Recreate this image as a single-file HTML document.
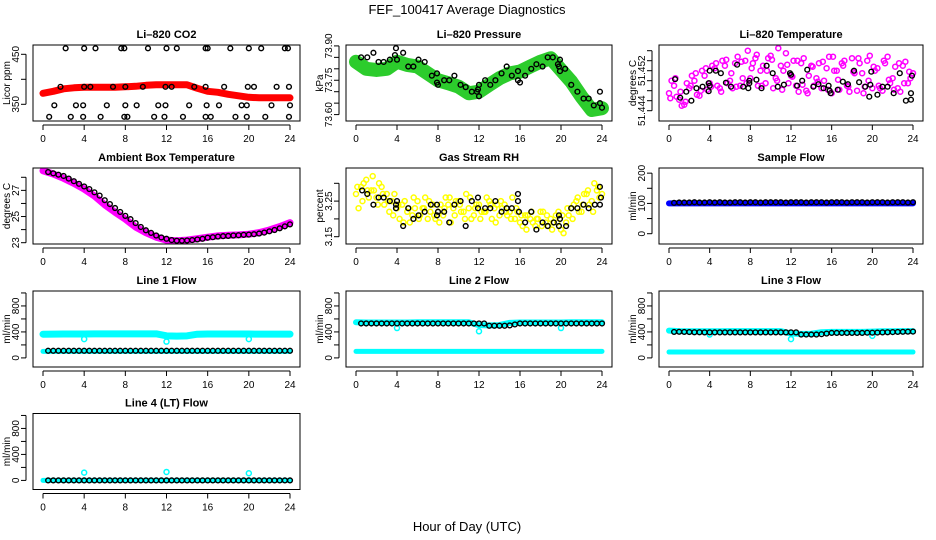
<!DOCTYPE html>
<html><head><meta charset="utf-8"><style>
html,body{margin:0;padding:0;background:#fff;}
svg{display:block;font-family:"Liberation Sans",sans-serif;}
</style></head><body>
<svg id="chart" width="936" height="540" viewBox="0 0 936 540" xmlns="http://www.w3.org/2000/svg">
<rect width="936" height="540" fill="#fff"/>
<text x="467" y="14" font-size="13" text-anchor="middle">FEF_100417  Average Diagnostics</text>
<text x="467" y="531" font-size="13" text-anchor="middle">Hour of Day (UTC)</text>
</svg>
<script>
// ---------- data ----------
const xTicks = [0,4,8,12,16,20,24];
const hourly = [0,1,2,3,4,5,6,7,8,9,10,11,12,13,14,15,16,17,18,19,20,21,22,23,24];

// Li-820 CO2
const co2Band = [372,376,381,383,384,384,384,384,385,386,388,389,389,389,389,382,376,374,370,367,364,363,363,363,363];
const co2BlkH = [2.2,4,5.1,7.6,7.9,10.2,12,13,15.8,16,18.2,20,21.2,23.5,23.8, 1.7,4,4.6,6.8,8,9.7,11.9,12.5,14.7,15.8,17.6,19.9,20.5,22.7,23.9, 1.1,3.2,3.9,6.2,8,9.1,11.2,11.9,14.2,15.9,17.1,19.3,19.8,22.2,24, 0.6,2.7,3.9,5.6,7.9,8.2,10.8,11.8,13.6,15.8,16.3,18.7,19.8,21.6,23.9];
const co2BlkV = [462,462,462,462,462,462,462,462,462,462,462,462,462,462,462, 385,385,385,385,385,385,385,385,385,385,385,385,385,385,385, 348,348,348,348,348,348,348,348,348,348,348,348,348,348,348, 325,325,325,325,325,325,325,325,325,325,325,325,325,325,325];

// Pressure
const presBand = [73.831,73.80,73.795,73.80,73.831,73.817,73.81,73.78,73.75,73.737,73.722,73.693,73.70,73.73,73.759,73.78,73.788,73.81,73.831,73.846,73.795,73.744,73.678,73.62,73.628];
const presBlkH = [0.5,1.1,1.7,2.2,2.7,3.3,3.8,3.9,4,4.6,5.1,5.6,6.1,6.7,7.4,7.9,7.9,8,8.6,9.1,9.6,10.2,10.7,11.3,11.8,11.9,12,12,12.6,13.1,13.6,14.2,14.7,15.2,15.8,15.8,16,16.5,17.1,17.6,18.2,18.7,19.2,19.7,19.8,19.9,19.9,20.4,21,21.6,22.2,22.7,23.2,23.8,23.8,24];
const presBlkV = [73.85,73.85,73.87,73.83,73.83,73.84,73.86,73.89,73.84,73.87,73.81,73.81,73.84,73.83,73.77,73.78,73.74,73.73,73.75,73.75,73.77,73.73,73.72,73.70,73.70,73.71,73.68,73.73,73.75,73.73,73.75,73.78,73.81,73.77,73.79,73.75,73.74,73.77,73.80,73.82,73.81,73.85,73.85,73.82,73.81,73.79,73.84,73.80,73.73,73.70,73.67,73.67,73.64,73.70,73.65,73.63];

// Li-820 temperature (magenta scatter, three sampled layers)
const tmpA = [51.4475,51.4490,51.4462,51.4452,51.4485,51.4500,51.4470,51.4510,51.4495,51.4525,51.4485,51.4530,51.4500,51.4535,51.4490,51.4540,51.4505,51.4545,51.4520,51.4495,51.4550,51.4505,51.4530,51.4555,51.4510,51.4490,51.4535,51.4480,51.4530,51.4505,51.4485,51.4525,51.4475,51.4520,51.4535,51.4490,51.4545,51.4480,51.4515,51.4540,51.4485,51.4525,51.4480,51.4548,51.4505,51.4485,51.4530,51.4495,51.4515];
const tmpB = [51.4500,51.4468,51.4450,51.4495,51.4510,51.4472,51.4520,51.4482,51.4530,51.4490,51.4540,51.4495,51.4485,51.4548,51.4505,51.4560,51.4535,51.4490,51.4530,51.4545,51.4485,51.4565,51.4520,51.4495,51.4540,51.4478,51.4545,51.4510,51.4490,51.4535,51.4500,51.4548,51.4520,51.4482,51.4540,51.4478,51.4515,51.4535,51.4488,51.4550,51.4520,51.4485,51.4535,51.4495,51.4528,51.4478,51.4538,51.4505];
const tmpC = [51.4465,51.4505,51.4478,51.4458,51.4490,51.4515,51.4480,51.4525,51.4488,51.4535,51.4478,51.4542,51.4515,51.4488,51.4538,51.4495,51.4525,51.4552,51.4490,51.4520,51.4542,51.4500,51.4482,51.4532,51.4508,51.4540,51.4492,51.4475,51.4528,51.4498,51.4538,51.4482,51.4548,51.4502,51.4530,51.4488,51.4518,51.4545,51.4475,51.4500,51.4528,51.4490,51.4540,51.4502,51.4482,51.4535,51.4495,51.4518];
const tmpBlkH = [0.6,1.1,1.7,2.2,2.7,3.3,3.9,3.9,4,4,4.6,5.1,5.6,6.1,6.7,7.3,7.8,7.9,7.9,8.6,9.1,9.6,10.2,10.7,11.3,11.9,12,12.6,13.1,13.6,14.2,14.7,15.2,15.7,15.8,15.9,16.6,17.1,17.6,18.2,18.7,19.3,19.7,19.8,19.9,20.5,21,21.5,22.1,22.7,23.3,23.8,23.9,23.8];
const tmpBlkV = [51.4503,51.4466,51.4478,51.4460,51.4485,51.4488,51.4479,51.4495,51.4490,51.4520,51.4520,51.4515,51.4496,51.4488,51.4532,51.4488,51.4485,51.4495,51.4500,51.4502,51.4485,51.4530,51.4515,51.4488,51.4492,51.4515,51.4512,51.4490,51.4500,51.4522,51.4488,51.4493,51.4485,51.4490,51.4480,51.4475,51.4482,51.4498,51.4493,51.4520,51.4497,51.4488,51.4468,51.4492,51.4518,51.4472,51.4488,51.4488,51.4475,51.4515,51.4460,51.4462,51.4510,51.4475];

// Ambient box temperature
const ambBand = [28.5,28.25,27.92,27.54,27.1,26.57,25.9,25.33,24.8,24.2,23.77,23.42,23.2,23.15,23.2,23.3,23.42,23.52,23.57,23.6,23.65,23.77,23.97,24.23,24.53];
const ambBlk = [28.4,28.3,28.2,28.1,27.9,27.7,27.5,27.3,27.1,26.85,26.6,26.25,25.95,25.65,25.35,25.05,24.8,24.5,24.2,23.95,23.75,23.55,23.4,23.3,23.2,23.15,23.15,23.17,23.2,23.25,23.3,23.38,23.42,23.47,23.5,23.52,23.55,23.57,23.6,23.62,23.65,23.7,23.77,23.87,23.97,24.1,24.25,24.4];

// Gas stream RH (yellow scatter layers)
const rhA = [3.27,3.29,3.31,3.28,3.26,3.29,3.27,3.25,3.23,3.24,3.22,3.21,3.25,3.23,3.20,3.24,3.22,3.21,3.24,3.23,3.25,3.22,3.23,3.21,3.24,3.22,3.25,3.23,3.21,3.24,3.22,3.20,3.19,3.21,3.20,3.18,3.22,3.19,3.20,3.21,3.17,3.19,3.23,3.25,3.22,3.27,3.25,3.28,3.27];
const rhB = [3.23,3.30,3.26,3.28,3.30,3.24,3.22,3.27,3.20,3.25,3.19,3.23,3.21,3.26,3.22,3.20,3.24,3.26,3.19,3.25,3.22,3.27,3.20,3.24,3.22,3.26,3.20,3.24,3.23,3.21,3.26,3.22,3.18,3.21,3.19,3.20,3.22,3.18,3.19,3.22,3.16,3.21,3.24,3.22,3.27,3.24,3.30,3.26];
const rhC = [3.29,3.25,3.28,3.32,3.24,3.27,3.25,3.21,3.24,3.19,3.23,3.26,3.20,3.23,3.25,3.21,3.19,3.23,3.26,3.21,3.24,3.20,3.26,3.23,3.20,3.22,3.24,3.19,3.25,3.22,3.20,3.23,3.21,3.17,3.22,3.20,3.18,3.21,3.17,3.19,3.21,3.23,3.20,3.26,3.24,3.28,3.22,3.29];
const rhBlkH = [0.6,1.1,1.7,2.2,2.7,3.3,3.9,3.9,4,4.6,5.1,5.6,6.1,6.7,7.3,7.9,7.9,8,8.6,9.1,9.6,10.2,10.7,11.3,11.9,11.9,12.6,13.1,13.6,14.2,14.7,15.2,15.8,15.8,15.9,16.5,17.1,17.6,18.2,18.7,19.3,19.8,19.8,19.9,20.5,21,21.6,22.2,22.7,23.3,23.8,23.9,23.8];
const rhBlkV = [3.28,3.27,3.24,3.26,3.26,3.25,3.23,3.24,3.25,3.18,3.23,3.20,3.21,3.22,3.24,3.24,3.21,3.22,3.22,3.19,3.24,3.25,3.18,3.25,3.26,3.23,3.23,3.23,3.25,3.22,3.23,3.23,3.27,3.25,3.22,3.19,3.22,3.17,3.19,3.18,3.19,3.21,3.18,3.20,3.18,3.23,3.23,3.24,3.23,3.24,3.29,3.26,3.24];

// Sample flow
const sfBand = [100,100,100,100,100,100,100,100,100,100,100,100,100,100,100,100,100,100,100,100,100,100,100,100,100];
const sfBlk = [102,103,103,103,104,103,103,104,103,104,103,103,104,104,103,104,104,103,104,104,104,104,103,104,104,104,103,104,104,104,103,104,104,104,103,104,104,104,103,104,104,104,103,104,104,104,103,104];

// Line 1
const l1Up = [365,366,368,368,368,370,370,370,370,370,370,370,340,335,340,365,368,368,368,368,368,366,366,366,366];
const l1Low = [100,100,100,100,100,100,100,100,100,100,100,100,100,100,100,100,100,100,100,100,100,100,100,100,100];
const l1Blk = [110,110,110,110,110,110,110,110,110,110,110,110,110,110,110,110,110,110,110,110,110,110,110,110,110,110,110,110,110,110,110,110,110,110,110,110,110,110,110,110,110,110,110,110,110,110,110,110];
const l1OutH = [4,12,20];
const l1OutV = [290,250,290];
// Line 2
const l2Up = [548,545,545,545,545,545,548,548,548,548,548,548,505,500,505,540,545,545,545,545,545,548,548,548,548];
const l2Low = [100,100,100,100,100,100,100,100,100,100,100,100,100,100,100,100,100,100,100,100,100,100,100,100,100];
const l2Blk = [530,530,530,530,530,530,530,530,530,530,530,530,530,530,530,530,530,530,530,530,530,530,530,530,530,495,495,495,495,500,515,530,530,530,530,530,530,530,530,530,530,530,530,530,530,530,530,530];
const l2OutH = [4,12,20];
const l2OutV = [460,410,460];
// Line 3
const l3Up = [420,412,410,410,410,410,412,412,412,412,412,412,375,370,372,395,400,400,400,400,405,410,410,412,412];
const l3Low = [90,90,90,90,90,90,90,90,90,90,90,90,90,90,90,90,90,90,90,90,90,90,90,90,90];
const l3Blk = [400,402,400,398,395,395,393,393,393,393,393,393,393,393,393,393,393,393,393,393,393,393,393,393,393,360,360,360,360,365,375,385,385,385,385,385,385,385,388,388,390,393,395,397,400,402,404,405];
const l3OutH = [4,12,20];
const l3OutV = [360,290,340];
// Line 4
const l4Up = [0,0,0,0,0,0,0,0,0,0,0,0,0,0,0,0,0,0,0,0,0,0,0,0,0];
const l4Blk = [0,0,0,0,0,0,0,0,0,0,0,0,0,0,0,0,0,0,0,0,0,0,0,0,0,0,0,0,0,0,0,0,0,0,0,0,0,0,0,0,0,0,0,0,0,0,0,0];
const l4OutH = [4,12,20];
const l4OutV = [120,130,110];

// ---------- drawing ----------
const NS = "http://www.w3.org/2000/svg";
const svg = document.getElementById('chart');
function el(tag, attrs, parent){
  const e = document.createElementNS(NS, tag);
  for (const k in attrs) e.setAttribute(k, attrs[k]);
  (parent||svg).appendChild(e);
  return e;
}
const colL = [33,346,659], colW = [267,266,264];
const rowT = [45,168,291,413.5], boxH = 76;

function panel(name, col, row, title, ylab, ymin, ymax, yticks, ylabels){
  const L = colL[col], T = rowT[row], W = colW[col], B = T + boxH;
  const g = el('g', {});
  
  
  const p = {g, L, T, W, B,
    x: h => L + 10 + h * (W - 20) / 24,
    y: v => B - (v - ymin) / (ymax - ymin) * boxH};
  const cid = 'clip-' + name;
  const cp = el('clipPath', {id: cid}, g);
  el('rect', {x: L, y: T, width: W, height: boxH}, cp);
  p.plot = el('g', {'clip-path': 'url(#' + cid + ')'}, g);
  
  
  const box = el('rect', {x: L, y: T, width: W, height: boxH, fill: 'none', stroke: '#000', 'stroke-width': 1}, g);
  
  
  const t = el('text', {x: L + W / 2, y: T - 7, 'font-size': 11, 'font-weight': 'bold', 'text-anchor': 'middle'}, g);
  t.textContent = title;
  
  
  const yl = el('text', {x: 0, y: 0, 'font-size': 10, 'text-anchor': 'middle', transform: 'translate(' + (L - 23) + ',' + (T + boxH / 2) + ') rotate(-90)'}, g);
  yl.textContent = ylab;
  
  
  const xa = el('g', {}, g);
  
  
  el('line', {x1: p.x(0), x2: p.x(24), y1: B + 4, y2: B + 4, stroke: '#000'}, xa);
  xTicks.forEach(h => {
    el('line', {x1: p.x(h), x2: p.x(h), y1: B + 4, y2: B + 9, stroke: '#000'}, xa);
    const tt = el('text', {x: p.x(h), y: B + 21, 'font-size': 10, 'text-anchor': 'middle'}, xa);
    tt.textContent = h;
  });
  const ya = el('g', {}, g);
  
  
  el('line', {x1: L - 7, x2: L - 7, y1: p.y(yticks[0]), y2: p.y(yticks[yticks.length - 1]), stroke: '#000'}, ya);
  yticks.forEach((v, i) => {
    el('line', {x1: L - 12, x2: L - 7, y1: p.y(v), y2: p.y(v), stroke: '#000'}, ya);
    if (ylabels[i] !== '') {
      const tt = el('text', {x: 0, y: 0, 'font-size': 10, 'text-anchor': 'middle', transform: 'translate(' + (L - 14) + ',' + p.y(v) + ') rotate(-90)'}, ya);
      tt.textContent = ylabels[i];
    }
  });
  return p;
}
function band(p, name, hours, vals, color, w){
  const pts = hours.map((h, i) => p.x(h) + ',' + p.y(vals[i])).join(' ');
  const e = el('polyline', {points: pts, fill: 'none', stroke: color, 'stroke-width': w, 'stroke-linejoin': 'round', 'stroke-linecap': 'round'}, p.plot);
  
  
}
function pts(p, name, hours, vals, color, r, sw){
  const g = el('g', {}, p.plot);
  
  
  hours.forEach((h, i) => {
    el('circle', {cx: p.x(h), cy: p.y(vals[i]), r: r, fill: 'none', stroke: color, 'stroke-width': sw}, g);
  });
}
const half0 = n => Array.from({length: n}, (_, i) => i * 0.5);
const halfQ = n => Array.from({length: n}, (_, i) => 0.25 + i * 0.5);
const halfB = n => Array.from({length: n}, (_, i) => 0.5 + i * 0.5);
const fT = [0,200,400,600,800,1000], fL = ['0','','400','','800',''];

let p;
p = panel('co2', 0, 0, 'Li\u2013820 CO2', 'Licor ppm', 316.6, 468.6, [350,400,450], ['350','','450']);
band(p, 'co2-band', hourly, co2Band, '#f00', 7);
pts(p, 'co2-hourly-points', co2BlkH, co2BlkV, '#000', 2.4, 1.4);

p = panel('pressure', 1, 0, 'Li\u2013820 Pressure', 'kPa', 73.572, 73.904, [73.60,73.65,73.70,73.75,73.80,73.85,73.90], ['73.60','','','73.75','','','73.90']);
band(p, 'pressure-band', hourly, presBand, '#2ccc2c', 14);
pts(p, 'pressure-hourly-points', presBlkH, presBlkV, '#000', 2.4, 1.4);

p = panel('temperature', 2, 0, 'Li\u2013820 Temperature', 'degrees C', 51.44194, 51.45714, [51.444,51.446,51.448,51.450,51.452,51.454,51.456], ['51.444','','','','51.452','','']);
pts(p, 'temperature-points-a', half0(tmpA.length), tmpA, '#f0f', 2.5, 1.5);
pts(p, 'temperature-points-b', halfQ(tmpB.length), tmpB, '#f0f', 2.5, 1.5);
pts(p, 'temperature-points-c', halfQ(tmpC.length).map(h => h - 0.12), tmpC, '#f0f', 2.5, 1.5);
pts(p, 'temperature-hourly-points', tmpBlkH, tmpBlkV, '#000', 2.4, 1.4);

p = panel('ambient', 0, 1, 'Ambient Box Temperature', 'degrees C', 22.9, 28.71, [23,24,25,26,27,28], ['23','','25','','27','']);
band(p, 'ambient-band', hourly, ambBand, '#f0f', 7);
pts(p, 'ambient-hourly-points', halfB(ambBlk.length), ambBlk, '#000', 2.4, 1.4);

p = panel('rh', 1, 1, 'Gas Stream RH', 'percent', 3.1295, 3.343, [3.15,3.20,3.25,3.30], ['3.15','','3.25','']);
pts(p, 'rh-points-a', half0(rhA.length), rhA, '#ff0', 2.5, 1.5);
pts(p, 'rh-points-b', halfQ(rhB.length), rhB, '#ff0', 2.5, 1.5);
pts(p, 'rh-points-c', halfQ(rhC.length).map(h => h - 0.12), rhC, '#ff0', 2.5, 1.5);
pts(p, 'rh-hourly-points', rhBlkH, rhBlkV, '#000', 2.4, 1.4);

p = panel('sample-flow', 2, 1, 'Sample Flow', 'ml/min', -34, 217, [0,50,100,150,200], ['0','','100','','200']);
band(p, 'sample-flow-band', hourly, sfBand, '#00f', 6);
pts(p, 'sample-flow-hourly-points', halfB(sfBlk.length), sfBlk, '#000', 2.4, 1.4);

p = panel('line1', 0, 2, 'Line 1 Flow', 'ml/min', -140, 1030, fT, fL);
band(p, 'line1-upper-band', hourly, l1Up, '#0ff', 7);
band(p, 'line1-lower-band', hourly, l1Low, '#0ff', 5);
pts(p, 'line1-outliers', l1OutH, l1OutV, '#0ff', 2.5, 1.5);
pts(p, 'line1-hourly-points', halfB(l1Blk.length), l1Blk, '#000', 2.4, 1.4);

p = panel('line2', 1, 2, 'Line 2 Flow', 'ml/min', -140, 1030, fT, fL);
band(p, 'line2-upper-band', hourly, l2Up, '#0ff', 6);
band(p, 'line2-lower-band', hourly, l2Low, '#0ff', 5);
pts(p, 'line2-outliers', l2OutH, l2OutV, '#0ff', 2.5, 1.5);
pts(p, 'line2-hourly-points', halfB(l2Blk.length), l2Blk, '#000', 2.4, 1.4);

p = panel('line3', 2, 2, 'Line 3 Flow', 'ml/min', -140, 1030, fT, fL);
band(p, 'line3-upper-band', hourly, l3Up, '#0ff', 6);
band(p, 'line3-lower-band', hourly, l3Low, '#0ff', 5);
pts(p, 'line3-outliers', l3OutH, l3OutV, '#0ff', 2.5, 1.5);
pts(p, 'line3-hourly-points', halfB(l3Blk.length), l3Blk, '#000', 2.4, 1.4);

p = panel('line4', 0, 3, 'Line 4 (LT) Flow', 'ml/min', -140, 1030, fT, fL);
band(p, 'line4-band', hourly, l4Up, '#0ff', 5);
pts(p, 'line4-outliers', l4OutH, l4OutV, '#0ff', 2.5, 1.5);
pts(p, 'line4-hourly-points', halfB(l4Blk.length), l4Blk, '#000', 2.4, 1.4);
</script>
</body></html>
